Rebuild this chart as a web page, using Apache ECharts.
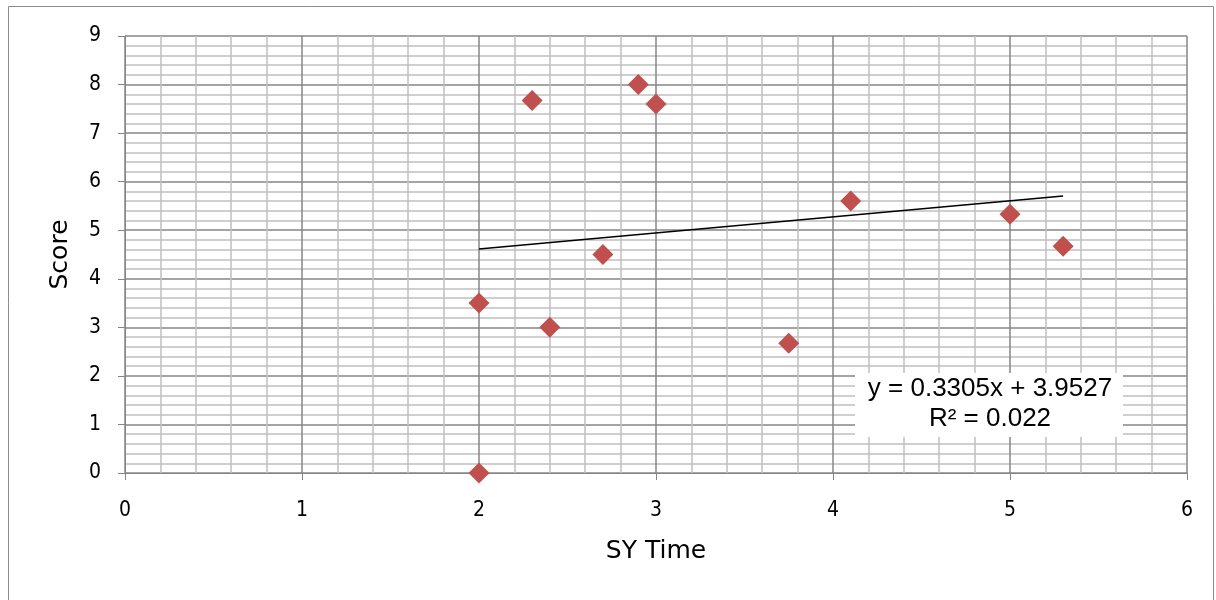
<!DOCTYPE html>
<html>
<head>
<meta charset="utf-8">
<script src="https://cdn.jsdelivr.net/npm/echarts@6/dist/echarts.min.js"></script>
<style>
html, body { margin: 0; padding: 0; background: #fff; }
#main { width: 1216px; height: 600px; }
</style>
</head>
<body>
<div id="main"></div>
<script>
// SY Time vs Score
var syTime = [2, 2, 2.3, 2.4, 2.7, 2.9, 3, 3.75, 4.1, 5, 5.3];
var score = [0, 3.5, 7.67, 3, 4.5, 8, 7.6, 2.67, 5.6, 5.33, 4.67];
var slope = 0.3305, intercept = 3.9527;
var trendX = [2, 5.3];

var points = syTime.map(function (x, i) { return [x, score[i]]; });
var trend = trendX.map(function (x) { return [x, slope * x + intercept]; });

var myChart = echarts.init(document.getElementById('main'));
var labelFont = 'DejaVu Sans Condensed, Liberation Sans, sans-serif';
var nameFont = 'DejaVu Sans, Liberation Sans, sans-serif';
var option = {
    backgroundColor: '#fff',
    animation: false,
    grid: { left: 125, right: 29, top: 36, bottom: 127 },
    graphic: [{
        type: 'rect',
        shape: { x: 8.5, y: 6.5, width: 1205, height: 600 },
        style: { fill: 'none', stroke: '#8c8c8c', lineWidth: 1 },
        silent: true
    }, {
        type: 'rect',
        shape: { x: 855, y: 373, width: 268, height: 64 },
        style: { fill: '#fff' },
        z: 10
    }, {
        type: 'text',
        x: 990, y: 374,
        style: {
            text: 'y = 0.3305x + 3.9527\nR² = 0.022',
            font: '26px Liberation Sans, Arial, sans-serif',
            fill: '#000',
            align: 'center',
            verticalAlign: 'top',
            lineHeight: 30
        },
        z: 11
    }],
    xAxis: {
        type: 'value',
        min: 0, max: 6, interval: 1,
        name: 'SY Time',
        nameLocation: 'middle',
        nameGap: 66,
        nameTextStyle: { fontSize: 25, color: '#000', fontFamily: nameFont },
        axisLine: { lineStyle: { color: '#868686' } },
        axisTick: { show: true, length: 7, lineStyle: { color: '#868686' } },
        axisLabel: { fontSize: 21, color: '#000', margin: 27, fontFamily: labelFont },
        splitLine: { show: true, lineStyle: { color: '#868686', width: 1.5 } },
        minorTick: { show: false, splitNumber: 5 },
        minorSplitLine: { show: true, lineStyle: { color: '#c0c0c0', width: 1.5 } }
    },
    yAxis: {
        type: 'value',
        min: 0, max: 9, interval: 1,
        name: 'Score',
        nameLocation: 'middle',
        nameGap: 52,
        nameTextStyle: { fontSize: 25, color: '#000', fontFamily: nameFont },
        axisLine: { show: true, lineStyle: { color: '#868686' } },
        axisTick: { show: true, length: 7, lineStyle: { color: '#868686' } },
        axisLabel: { fontSize: 21, color: '#000', margin: 24, fontFamily: labelFont },
        splitLine: { show: true, lineStyle: { color: '#868686', width: 1.5 } },
        minorTick: { show: false, splitNumber: 5 },
        minorSplitLine: { show: true, lineStyle: { color: '#c0c0c0', width: 1.5 } }
    },
    series: [{
        type: 'scatter',
        data: points,
        symbol: 'diamond',
        symbolSize: [21, 21],
        itemStyle: { color: '#c0504d', opacity: 1 },
        z: 5
    }, {
        type: 'line',
        data: trend,
        symbol: 'none',
        lineStyle: { color: '#000', width: 1.5 },
        z: 4
    }]
};
myChart.setOption(option);
</script>
</body>
</html>
